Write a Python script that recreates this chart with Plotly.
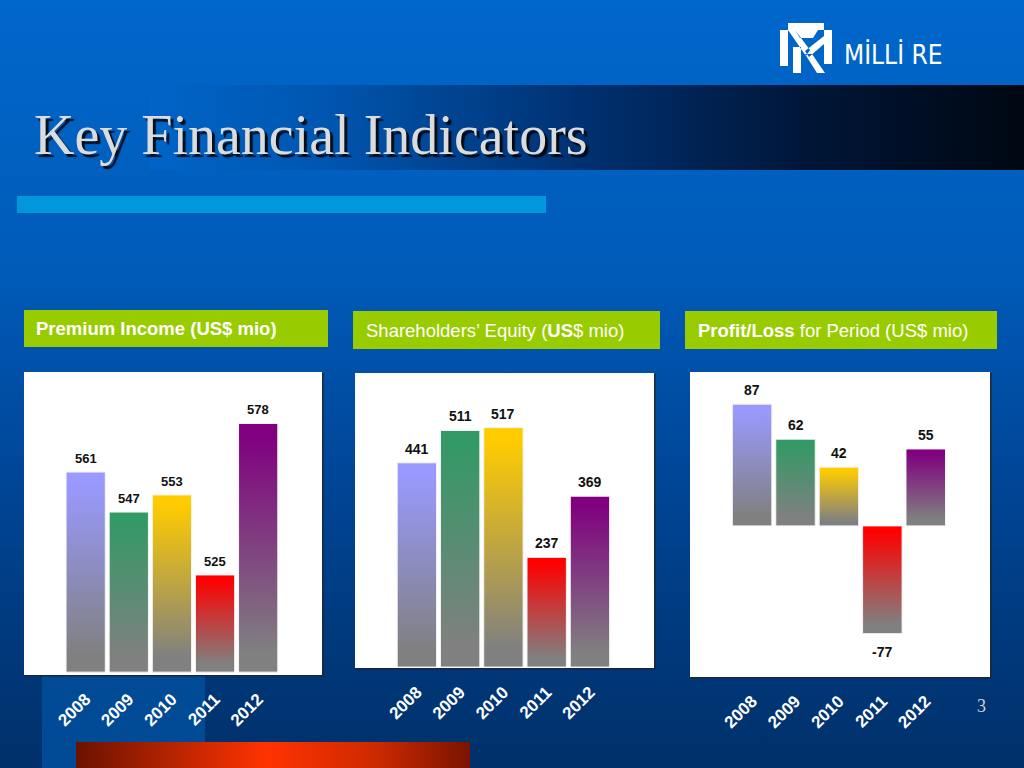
import base64
import plotly.graph_objects as go

## Data

years = [2008, 2009, 2010, 2011, 2012]
premium_income = [561, 547, 553, 525, 578]
shareholders_equity = [441, 511, 517, 237, 369]
profit_loss = [87, 62, 42, -77, 55]
bar_colors = ["#9999ff", "#339966", "#ffcc00", "#ff0000", "#800080"]
year_labels = [str(y) for y in years]

W, H = 1024, 768
GRAY = "#808080"


def px(x):
    return x / W


def py(y):
    return 1 - y / H


def grad_uri(stops, horizontal=True):
    x2, y2 = ("1", "0") if horizontal else ("0", "1")
    st = "".join(f"<stop offset='{o}' stop-color='{c}'/>" for o, c in stops)
    svg = ("<svg xmlns='http://www.w3.org/2000/svg' width='100' height='100' "
           "viewBox='0 0 100 100' preserveAspectRatio='none'><defs>"
           f"<linearGradient id='g' x1='0' y1='0' x2='{x2}' y2='{y2}'>{st}</linearGradient>"
           "</defs><rect width='100' height='100' fill='url(#g)'/></svg>")
    return "data:image/svg+xml;base64," + base64.b64encode(svg.encode()).decode()


def img(uri, x0, y0, x1, y1):
    return dict(source=uri, xref="paper", yref="paper", x=px(x0), y=py(y0),
                sizex=(x1 - x0) / W, sizey=(y1 - y0) / H, xanchor="left",
                yanchor="top", sizing="stretch", layer="below")


def rect(x0, y0, x1, y1, color, **kw):
    return dict(type="rect", xref="paper", yref="paper", x0=px(x0), x1=px(x1),
                y0=py(y1), y1=py(y0), fillcolor=color, line=dict(width=0),
                layer="below", **kw)


def path_of(polys):
    out = ""
    for poly in polys:
        out += "M" + " L".join(f"{px(x):.5f},{py(y):.5f}" for x, y in poly) + " Z "
    return out


fig = go.Figure()

# panels: values, axis suffix, box in pixels, y range, bar base, label size
panels = [
    (premium_income, "", (24, 372, 322, 675), [490, 596], 491, 13),
    (shareholders_equity, "2", (355, 373, 654, 668), [-2, 635], 0, 14),
    (profit_loss, "3", (690, 372, 990, 677), [-108, 110], 0, 14),
]
bar_w = 0.91
annotations = []

for vals, ax, (bx0, by0, bx1, by1), yr, base, lsize in panels:
    for yv, v, c in zip(years, vals, bar_colors):
        fig.add_trace(go.Scatter(
            x=[yv - bar_w / 2, yv - bar_w / 2, yv + bar_w / 2, yv + bar_w / 2, yv - bar_w / 2],
            y=[base, v, v, base, base],
            fill="toself", mode="lines",
            line=dict(color="#f4f4f4", width=1),
            fillgradient=dict(type="vertical",
                              colorscale=[[0, GRAY], [0.08, GRAY], [0.95, c], [1, c]]),
            xaxis="x" + ax, yaxis="y" + ax, hoverinfo="skip", showlegend=False,
        ))
        annotations.append(dict(
            x=yv, y=v, xref="x" + ax, yref="y" + ax, text=f"<b>{v}</b>",
            showarrow=False, yanchor="bottom" if v >= 0 else "top",
            yshift=4 if v >= 0 else -8,
            font=dict(family="Liberation Sans, Arial", size=lsize, color="#111111"),
        ))
    xk = "xaxis" + ax
    yk = "yaxis" + ax
    fig.update_layout({
        xk: dict(domain=[px(bx0), px(bx1)], range=[years[0] - 1.43, years[-1] + 1.48],
                 anchor="y" + ax, tickmode="array", tickvals=years, ticktext=year_labels,
                 tickangle=-45, showgrid=False, zeroline=False, showline=False,
                 ticks="", ticklabelstandoff=10, fixedrange=True,
                 tickfont=dict(family="Liberation Sans, Arial", size=17, color="white",
                               weight="bold")),
        yk: dict(domain=[py(by1), py(by0)], range=yr, anchor="x" + ax, visible=False,
                 fixedrange=True),
    })

# background pieces
images = [
    img(grad_uri([(0, "#0067cc"), (0.35, "#005bb8"), (0.6, "#00479a"),
                  (0.85, "#00387a"), (1, "#00306a")], horizontal=False), 0, 0, W, H),
    img(grad_uri([(0, "#0064c8"), (0.2, "#0056b0"), (0.5, "#003070"),
                  (0.75, "#001638"), (1, "#000712")]), 150, 85, W, 170),
    img(grad_uri([(0, "#004a96"), (1, "#004a96")]), 42, 675, 205, H),
    img(grad_uri([(0, "#6a1200"), (0.25, "#b82400"), (0.48, "#ff3300"),
                  (0.75, "#d02a00"), (1, "#7a1400")]), 76, 742, 470, H),
]

shapes = [
    rect(17, 196, 546, 213, "#0097dc"),
]
headers = [
    ((24, 310, 328, 347), 34, "<b>Premium Income (US$ mio)</b>"),
    ((353, 311, 660, 349), 364, "Shareholders’ Equity (<b>US</b>$ mio)"),
    ((685, 311, 997, 349), 696, "<b>Profit/Loss</b> for Period (US$ mio)"),
]
for (hx0, hy0, hx1, hy1), tx, txt in headers:
    shapes.append(rect(hx0, hy0, hx1, hy1, "#99cc00"))
    annotations.append(dict(
        x=px(tx), y=py((hy0 + hy1) / 2), xref="paper", yref="paper", text=txt,
        showarrow=False, xanchor="left", yanchor="middle",
        font=dict(family="Liberation Sans, Arial", size=18.5, color="white"),
    ))
for _, _, (bx0, by0, bx1, by1), _, _, _ in panels:
    shapes.append(rect(bx0 + 1, by0 + 1, bx1 + 1.5, by1 + 1.5, "#1b2738"))
    shapes.append(rect(bx0, by0, bx1, by1, "white"))

# logo mark
logo = [
    [(780, 23), (832, 23), (832, 30), (780, 30)],
    [(780, 23), (788, 23), (788, 66), (780, 66)],
    [(824, 23), (832, 23), (832, 64), (824, 64)],
    [(788, 30), (795, 30), (810, 50), (806, 56)],
    [(824, 36), (824, 44), (809, 57), (805, 51)],
    [(793, 47), (801, 47), (801, 73), (793, 73)],
    [(805, 54), (812, 54), (825, 73), (817, 73)],
    [(795, 30), (818, 30), (813, 38), (800, 38)],
]
shapes.append(dict(type="path", xref="paper", yref="paper", path=path_of(logo),
                   fillcolor="white", line=dict(width=0), layer="above"))
annotations.append(dict(
    x=px(842), y=py(54), xref="paper", yref="paper", text="MİLLİ RE", showarrow=False,
    xanchor="left", yanchor="middle",
    font=dict(family="Liberation Sans Narrow, DejaVu Sans Condensed", size=26, color="white"),
))

# title, shadow drawn by the font itself
annotations.append(dict(
    x=px(32), y=py(135), xref="paper", yref="paper",
    text="Key Financial Indicators", showarrow=False, xanchor="left", yanchor="middle",
    font=dict(family="Liberation Serif, Times New Roman", size=56, color="#dcdcdc",
              shadow="3px 3px 1px rgba(0,0,0,0.85)"),
))

annotations.append(dict(
    x=px(988), y=py(718), xref="paper", yref="paper", text="3", showarrow=False,
    font=dict(family="Liberation Serif", size=18, color="#d0d0d0"),
))

fig.update_layout(
    width=W, height=H, margin=dict(l=0, r=0, t=0, b=0),
    paper_bgcolor="#00408a", plot_bgcolor="rgba(0,0,0,0)",
    images=images, shapes=shapes, annotations=annotations, showlegend=False,
)

fig.write_html("out.html", config={"displayModeBar": False},
               post_script="document.body.style.margin='0';"
                           "document.body.style.overflow='hidden';")
